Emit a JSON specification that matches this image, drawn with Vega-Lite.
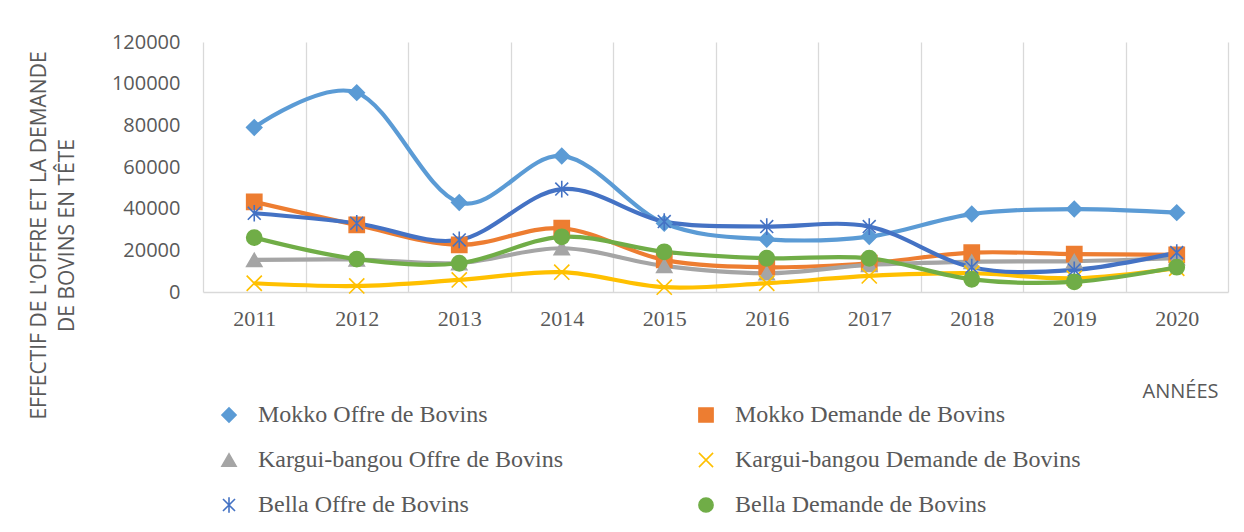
{
  "$schema": "https://vega.github.io/schema/vega-lite/v6.json",
  "width": 1025,
  "height": 250,
  "autosize": {"type": "none"},
  "padding": {"left": 203, "top": 42, "right": 16, "bottom": 240},
  "background": "white",
  "config": {
    "view": {"stroke": null},
    "legend": {
      "orient": "none",
      "legendX": 14,
      "legendY": 361,
      "direction": "horizontal",
      "columns": 2,
      "columnPadding": 130,
      "rowPadding": 21,
      "padding": 0,
      "labelFont": "Liberation Serif",
      "labelFontSize": 24,
      "labelColor": "#595959",
      "labelLimit": 500,
      "labelOffset": 17,
      "symbolSize": 200,
      "symbolStrokeWidth": 1.6
    }
  },
  "data": {
    "values": [
      {"series": "Mokko Offre  de Bovins", "year": 2011, "value": 79000},
      {"series": "Mokko Offre  de Bovins", "year": 2012, "value": 95700},
      {"series": "Mokko Offre  de Bovins", "year": 2013, "value": 43000},
      {"series": "Mokko Offre  de Bovins", "year": 2014, "value": 65300},
      {"series": "Mokko Offre  de Bovins", "year": 2015, "value": 33000},
      {"series": "Mokko Offre  de Bovins", "year": 2016, "value": 25300},
      {"series": "Mokko Offre  de Bovins", "year": 2017, "value": 26600},
      {"series": "Mokko Offre  de Bovins", "year": 2018, "value": 37400},
      {"series": "Mokko Offre  de Bovins", "year": 2019, "value": 39800},
      {"series": "Mokko Offre  de Bovins", "year": 2020, "value": 38100},
      {"series": "Mokko Demande de Bovins", "year": 2011, "value": 43300},
      {"series": "Mokko Demande de Bovins", "year": 2012, "value": 32200},
      {"series": "Mokko Demande de Bovins", "year": 2013, "value": 22600},
      {"series": "Mokko Demande de Bovins", "year": 2014, "value": 30600},
      {"series": "Mokko Demande de Bovins", "year": 2015, "value": 15400},
      {"series": "Mokko Demande de Bovins", "year": 2016, "value": 11900},
      {"series": "Mokko Demande de Bovins", "year": 2017, "value": 13800},
      {"series": "Mokko Demande de Bovins", "year": 2018, "value": 18900},
      {"series": "Mokko Demande de Bovins", "year": 2019, "value": 18200},
      {"series": "Mokko Demande de Bovins", "year": 2020, "value": 17800},
      {"series": "Kargui-bangou Offre de Bovins", "year": 2011, "value": 15400},
      {"series": "Kargui-bangou Offre de Bovins", "year": 2012, "value": 15600},
      {"series": "Kargui-bangou Offre de Bovins", "year": 2013, "value": 13900},
      {"series": "Kargui-bangou Offre de Bovins", "year": 2014, "value": 21000},
      {"series": "Kargui-bangou Offre de Bovins", "year": 2015, "value": 12500},
      {"series": "Kargui-bangou Offre de Bovins", "year": 2016, "value": 9000},
      {"series": "Kargui-bangou Offre de Bovins", "year": 2017, "value": 13000},
      {"series": "Kargui-bangou Offre de Bovins", "year": 2018, "value": 14500},
      {"series": "Kargui-bangou Offre de Bovins", "year": 2019, "value": 14800},
      {"series": "Kargui-bangou Offre de Bovins", "year": 2020, "value": 16200},
      {"series": "Kargui-bangou Demande de Bovins", "year": 2011, "value": 4200},
      {"series": "Kargui-bangou Demande de Bovins", "year": 2012, "value": 2900},
      {"series": "Kargui-bangou Demande de Bovins", "year": 2013, "value": 5800},
      {"series": "Kargui-bangou Demande de Bovins", "year": 2014, "value": 9500},
      {"series": "Kargui-bangou Demande de Bovins", "year": 2015, "value": 2300},
      {"series": "Kargui-bangou Demande de Bovins", "year": 2016, "value": 4200},
      {"series": "Kargui-bangou Demande de Bovins", "year": 2017, "value": 7700},
      {"series": "Kargui-bangou Demande de Bovins", "year": 2018, "value": 9000},
      {"series": "Kargui-bangou Demande de Bovins", "year": 2019, "value": 6600},
      {"series": "Kargui-bangou Demande de Bovins", "year": 2020, "value": 11400},
      {"series": "Bella  Offre de Bovins", "year": 2011, "value": 37800},
      {"series": "Bella  Offre de Bovins", "year": 2012, "value": 33000},
      {"series": "Bella  Offre de Bovins", "year": 2013, "value": 25000},
      {"series": "Bella  Offre de Bovins", "year": 2014, "value": 49400},
      {"series": "Bella  Offre de Bovins", "year": 2015, "value": 33800},
      {"series": "Bella  Offre de Bovins", "year": 2016, "value": 31400},
      {"series": "Bella  Offre de Bovins", "year": 2017, "value": 31400},
      {"series": "Bella  Offre de Bovins", "year": 2018, "value": 11900},
      {"series": "Bella  Offre de Bovins", "year": 2019, "value": 10600},
      {"series": "Bella  Offre de Bovins", "year": 2020, "value": 18900},
      {"series": "Bella  Demande de Bovins", "year": 2011, "value": 26100},
      {"series": "Bella  Demande de Bovins", "year": 2012, "value": 15800},
      {"series": "Bella  Demande de Bovins", "year": 2013, "value": 13800},
      {"series": "Bella  Demande de Bovins", "year": 2014, "value": 26500},
      {"series": "Bella  Demande de Bovins", "year": 2015, "value": 19300},
      {"series": "Bella  Demande de Bovins", "year": 2016, "value": 16200},
      {"series": "Bella  Demande de Bovins", "year": 2017, "value": 16200},
      {"series": "Bella  Demande de Bovins", "year": 2018, "value": 6100},
      {"series": "Bella  Demande de Bovins", "year": 2019, "value": 4900},
      {"series": "Bella  Demande de Bovins", "year": 2020, "value": 11900}
    ]
  },
  "encoding": {
    "y": {
      "field": "value",
      "type": "quantitative",
      "scale": {"domain": [0, 120000], "nice": false},
      "axis": {
        "values": [0, 20000, 40000, 60000, 80000, 100000, 120000],
        "format": "d",
        "grid": false,
        "ticks": false,
        "domain": false,
        "labelFont": "Open Sans",
        "labelFontSize": 20,
        "labelColor": "#595959",
        "labelPadding": 23,
        "title": ["EFFECTIF DE L'OFFRE ET LA  DEMANDE", "DE BOVINS EN TÊTE"],
        "titleFont": "Open Sans",
        "titleFontSize": 21,
        "titleFontWeight": "normal",
        "titleColor": "#595959",
        "titleAngle": -90,
        "titleAlign": "center",
        "titleBaseline": "alphabetic",
        "titleLineHeight": 28,
        "titleX": -158,
        "titleY": 193
      }
    }
  },
  "layer": [
    {
      "mark": {"type": "line", "interpolate": "cardinal", "strokeWidth": 4.2},
      "encoding": {
        "x": {
          "field": "year",
          "type": "quantitative",
          "scale": {"domain": [2010.5, 2020.5], "nice": false, "zero": false},
          "axis": {
            "orient": "bottom",
            "values": [2011, 2012, 2013, 2014, 2015, 2016, 2017, 2018, 2019, 2020],
            "format": "d",
            "grid": false,
            "ticks": false,
            "domain": false,
            "labelFlush": false,
            "labelFont": "Liberation Serif",
            "labelFontSize": 22,
            "labelColor": "#595959",
            "labelPadding": 16,
            "title": "ANNÉES",
            "titleFont": "Open Sans",
            "titleFontSize": 20,
            "titleFontWeight": "normal",
            "titleColor": "#595959",
            "titleAlign": "center",
            "titleBaseline": "alphabetic",
            "titleX": 977,
            "titleY": 105
          }
        },
        "stroke": {
          "field": "series",
          "type": "nominal",
          "title": null,
          "scale": {
            "domain": ["Mokko Offre  de Bovins", "Mokko Demande de Bovins", "Kargui-bangou Offre de Bovins", "Kargui-bangou Demande de Bovins", "Bella  Offre de Bovins", "Bella  Demande de Bovins"],
            "range": ["#5B9BD5", "#ED7D31", "#A5A5A5", "#FFC000", "#4472C4", "#70AD47"]
          }
        }
      }
    },
    {
      "mark": {"type": "point", "size": 230, "strokeWidth": 1.6, "opacity": 1, "filled": true},
      "encoding": {
        "x": {
          "field": "year",
          "type": "quantitative",
          "axis": {
            "orient": "bottom",
            "values": [2010.5, 2011.5, 2012.5, 2013.5, 2014.5, 2015.5, 2016.5, 2017.5, 2018.5, 2019.5, 2020.5],
            "grid": true,
            "gridColor": "#d9d9d9",
            "gridWidth": 1.3,
            "labels": false,
            "ticks": false,
            "domain": true,
            "domainColor": "#d9d9d9",
            "domainWidth": 1.3,
            "title": null
          }
        },
        "fill": {
          "field": "series",
          "type": "nominal",
          "title": null,
          "scale": {
            "domain": ["Mokko Offre  de Bovins", "Mokko Demande de Bovins", "Kargui-bangou Offre de Bovins", "Kargui-bangou Demande de Bovins", "Bella  Offre de Bovins", "Bella  Demande de Bovins"],
            "range": ["#5B9BD5", "#ED7D31", "#A5A5A5", "#FFC000", "#4472C4", "#70AD47"]
          }
        },
        "stroke": {
          "field": "series",
          "type": "nominal",
          "title": null
        },
        "shape": {
          "field": "series",
          "type": "nominal",
          "title": null,
          "scale": {
            "domain": ["Mokko Offre  de Bovins", "Mokko Demande de Bovins", "Kargui-bangou Offre de Bovins", "Kargui-bangou Demande de Bovins", "Bella  Offre de Bovins", "Bella  Demande de Bovins"],
            "range": ["diamond", "square", "triangle-up", "M-1,-1L1,1M-1,1L1,-1", "M-0.85,-0.85L0.85,0.85M-0.85,0.85L0.85,-0.85M0,-1.1L0,1.1", "circle"]
          }
        }
      }
    }
  ],
  "resolve": {"axis": {"x": "independent"}}
}
